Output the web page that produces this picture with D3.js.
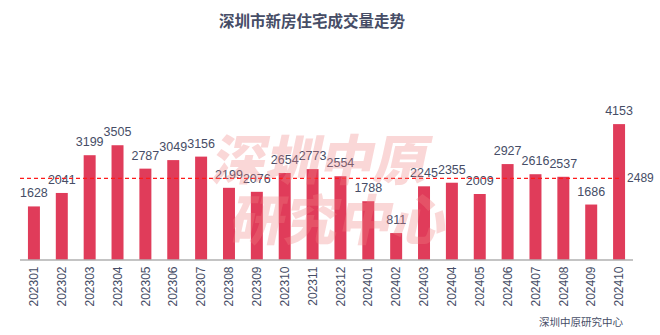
<!DOCTYPE html>
<html>
<head>
<meta charset="utf-8">
<script src="https://cdn.jsdelivr.net/npm/d3@7/dist/d3.min.js"></script>
<style>
  html, body { margin: 0; padding: 0; background: #fff; }
  svg { display: block; }
</style>
</head>
<body>
<svg id="chart" width="660" height="335"></svg>
<script>
// Monthly new-home transaction volume, Shenzhen
const months = ["202301","202302","202303","202304","202305","202306","202307","202308","202309","202310","202311","202312",
                "202401","202402","202403","202404","202405","202406","202407","202408","202409","202410"];
const volumes = [1628, 2041, 3199, 3505, 2787, 3049, 3156, 2199, 2076, 2654, 2773, 2554,
                 1788, 811, 2245, 2355, 2009, 2927, 2616, 2537, 1686, 4153];
const averageValue = 2489;
const titleText = "深圳市新房住宅成交量走势";
const sourceText = "深圳中原研究中心";
const watermarkLines = ["深圳中原", "研究中心"];

const svg = d3.select("#chart");
const textColor = "#464d66";
const barColor = "#e03c5a";
const numFont = "'Liberation Sans', Arial, sans-serif";
const cjkFont = "'Noto Sans CJK SC', sans-serif";

const left = 20, right = 633, baseline = 259.5;

const x = d3.scaleBand()
  .domain(months)
  .range([left, right])
  .paddingInner(0.57)
  .paddingOuter(0.285);

const y = d3.scaleLinear()
  .domain([0, 5000])
  .range([baseline, baseline - 163]);

// title
svg.append("text")
  .attr("x", 312).attr("y", 27)
  .attr("text-anchor", "middle")
  .attr("font-family", cjkFont)
  .attr("font-weight", "bold")
  .attr("font-size", 15.5)
  .attr("fill", textColor)
  .text(titleText);

// bars
svg.append("g").selectAll("rect")
  .data(volumes)
  .join("rect")
  .attr("x", (d, i) => x(months[i]))
  .attr("width", x.bandwidth())
  .attr("y", d => y(d))
  .attr("height", d => baseline - y(d))
  .attr("fill", barColor);

// value labels
svg.append("g").selectAll("text")
  .data(volumes)
  .join("text")
  .attr("x", (d, i) => x(months[i]) + x.bandwidth() / 2)
  .attr("y", d => y(d) - 9)
  .attr("text-anchor", "middle")
  .attr("font-family", numFont)
  .attr("font-size", 12.5)
  .attr("fill", textColor)
  .text(d => d);

// average line
const lastCenter = x(months[months.length - 1]) + x.bandwidth() / 2;
svg.append("line")
  .attr("x1", left).attr("x2", lastCenter)
  .attr("y1", y(averageValue)).attr("y2", y(averageValue))
  .attr("stroke", "#ff1a1a")
  .attr("stroke-width", 1.2)
  .attr("stroke-dasharray", "4,3");

svg.append("text")
  .attr("x", lastCenter + 8)
  .attr("y", y(averageValue) + 4)
  .attr("font-family", numFont)
  .attr("font-size", 12)
  .attr("fill", textColor)
  .text(averageValue);

// x axis
const xAxis = svg.append("g")
  .attr("transform", `translate(0,${baseline})`)
  .call(d3.axisBottom(x).tickSize(0).tickPadding(0));
xAxis.select(".domain").attr("stroke", "#8a8a8a").attr("stroke-width", 1.2)
  .attr("d", `M${left},0.5H${right}`);
xAxis.selectAll("text")
  .attr("transform", "rotate(-90)")
  .attr("x", -7).attr("y", 0).attr("dy", "0.35em")
  .attr("text-anchor", "end")
  .attr("font-family", numFont)
  .attr("font-size", 12)
  .attr("fill", textColor);

// watermark overlay
const wm = svg.append("g")
  .attr("pointer-events", "none")
  .attr("fill", "rgb(240,130,130)")
  .attr("fill-opacity", 0.32)
  .attr("font-family", cjkFont)
  .attr("font-weight", "900")
  .attr("font-size", 54);
wm.append("text")
  .attr("transform", "translate(210,180) skewX(-12)")
  .text(watermarkLines[0]);
wm.append("text")
  .attr("transform", "translate(228,240) skewX(-12)")
  .text(watermarkLines[1]);

// source
svg.append("text")
  .attr("x", 623).attr("y", 326)
  .attr("text-anchor", "end")
  .attr("font-family", cjkFont)
  .attr("font-size", 10.5)
  .attr("fill", textColor)
  .text(sourceText);
</script>
</body>
</html>
